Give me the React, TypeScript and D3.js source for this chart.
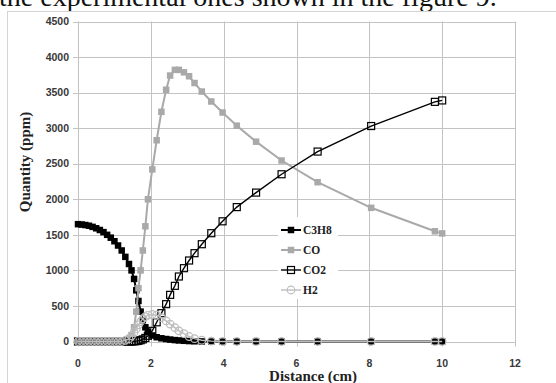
import * as d3 from 'd3';

// distance grid (cm) shared by every series
const distance = [
  0, 0.1, 0.2, 0.3, 0.4, 0.5, 0.6, 0.7, 0.8, 0.9, 1.0, 1.1, 1.2, 1.3, 1.4,
  1.47, 1.54, 1.6, 1.66, 1.72, 1.78, 1.85, 1.92,
  2.04, 2.16, 2.29, 2.42, 2.53, 2.66, 2.77, 2.91, 3.05, 3.2, 3.4,
  3.66, 3.97, 4.36, 4.89, 5.59, 6.58, 8.05, 9.8, 10.0,
];
const c3h8 = [
  1650, 1645, 1638, 1628, 1612, 1592, 1568, 1538, 1500, 1460, 1410, 1350, 1280, 1190, 1090,
  1000, 880, 720, 570, 420, 300, 200, 140,
  85, 60, 45, 35, 27, 20, 15, 10, 6, 3, 1,
  0, 0, 0, 0, 0, 0, 0, 0, 0,
];
const co = [
  0, 0, 0, 0, 0, 0, 0, 0, 0, 0, 0, 0, 0, 10, 40,
  90, 200, 420, 750, 1000, 1280, 1620, 2000,
  2420, 2830, 3230, 3540, 3740, 3820, 3820, 3785, 3730, 3635, 3515,
  3375, 3220, 3035, 2810, 2545, 2240, 1880, 1550, 1520,
];
const co2 = [
  0, 0, 0, 0, 0, 0, 0, 0, 0, 0, 0, 0, 0, 0, 0,
  0, 2, 5, 10, 18, 30, 50, 80,
  150, 270, 398, 525, 656, 783, 914, 1031, 1139, 1242, 1368,
  1523, 1690, 1890, 2094, 2352, 2671, 3030, 3370, 3390,
];
const h2 = [
  0, 0, 0, 0, 0, 0, 0, 0, 0, 0, 0, 0, 0, 15, 40,
  80, 130, 180, 235, 280, 320, 350, 372,
  380, 370, 335, 290, 245, 195, 150, 110, 70, 40, 18,
  5, 0, 0, 0, 0, 0, 0, 0, 0,
];

const yTicks = [0, 500, 1000, 1500, 2000, 2500, 3000, 3500, 4000, 4500];
const xTicks = [0, 2, 4, 6, 8, 10, 12];
const seriesNames = ['C3H8', 'CO', 'CO2', 'H2'];

const W = 556;
const H = 383;
const GRID = '#c3c3c3';
const GREY = '#a9a9a9';
const SERIF = '"Liberation Serif", "Times New Roman", serif';
const SANS = '"Liberation Sans", Arial, sans-serif';

type Style = { stroke: string; width: number; marker: 'sq' | 'osq' | 'circ'; fill: string };
const styles: Style[] = [
  { stroke: '#000', width: 2, marker: 'sq', fill: '#000' },
  { stroke: GREY, width: 2, marker: 'sq', fill: GREY },
  { stroke: '#000', width: 1.4, marker: 'osq', fill: 'none' },
  { stroke: '#bdbdbd', width: 1.4, marker: 'circ', fill: 'none' },
];

function Marker({ s, cx, cy }: { s: Style; cx: number; cy: number }) {
  if (s.marker === 'sq') return <rect x={cx - 3.25} y={cy - 3.25} width={6.5} height={6.5} fill={s.fill} />;
  if (s.marker === 'osq')
    return <rect x={cx - 3.5} y={cy - 3.5} width={7} height={7} fill="none" stroke={s.stroke} strokeWidth={1.2} />;
  return <circle cx={cx} cy={cy} r={3.8} fill="none" stroke={s.stroke} strokeWidth={1.2} />;
}

export default function App() {
  const x = d3.scaleLinear().domain([0, 12]).range([78, 515]);
  const y = d3.scaleLinear().domain([0, 4500]).range([341.5, 21.5]);
  const data = [c3h8, co, co2, h2];
  const line = d3.line<number>().x((_, i) => x(distance[i])).y((d) => y(d));

  const lx = 281;
  const ly = [230, 250, 270, 290];

  return (
    <svg width={W} height={H} style={{ position: 'absolute', left: 0, top: 0, background: '#fff' }}>
      <text x={-1} y={6} fontFamily={SERIF} fontSize={28} fill="#111">the experimental ones shown in the figure 9.</text>
      <rect x={7.5} y={11.5} width={600} height={400} fill="none" stroke="#d4d4d4" />

      {yTicks.map((t) => (
        <g key={'y' + t}>
          <line x1={x(0) - 5} x2={x(12)} y1={Math.round(y(t)) + 0.5} y2={Math.round(y(t)) + 0.5} stroke={GRID} />
          <text x={69} y={y(t) + 3.7} textAnchor="end" fontFamily={SANS} fontWeight="bold" fontSize={10.5} fill="#383838">{t}</text>
        </g>
      ))}
      {xTicks.map((t) => (
        <g key={'x' + t}>
          <line x1={Math.round(x(t)) + 0.5} x2={Math.round(x(t)) + 0.5} y1={y(4500)} y2={y(0) + 5} stroke={GRID} />
          <text x={x(t)} y={366.5} textAnchor="middle" fontFamily={SANS} fontWeight="bold" fontSize={10.5} fill="#383838">{t}</text>
        </g>
      ))}

      <text transform={`translate(30,162) rotate(-90)`} textAnchor="middle" fontFamily={SERIF} fontWeight="bold" fontSize={15} fill="#222">Quantity (ppm)</text>
      <text x={313} y={381} textAnchor="middle" fontFamily={SERIF} fontWeight="bold" fontSize={15} fill="#222">Distance (cm)</text>

      {data.map((vals, k) => (
        <g key={'s' + k}>
          <path d={line(vals) ?? ''} fill="none" stroke={styles[k].stroke} strokeWidth={styles[k].width} />
          {vals.map((v, i) => (
            <Marker key={i} s={styles[k]} cx={x(distance[i])} cy={y(v)} />
          ))}
        </g>
      ))}

      <rect x={278} y={217} width={60} height={82} fill="#fff" />
      {seriesNames.map((n, k) => (
        <g key={n}>
          <line x1={lx} x2={lx + 20} y1={ly[k]} y2={ly[k]} stroke={styles[k].stroke} strokeWidth={styles[k].width} />
          <Marker s={styles[k]} cx={lx + 10} cy={ly[k]} />
          <text x={lx + 22} y={ly[k] + 4} fontFamily={SERIF} fontWeight="bold" fontSize={11.5} fill="#222">{n}</text>
        </g>
      ))}
    </svg>
  );
}
